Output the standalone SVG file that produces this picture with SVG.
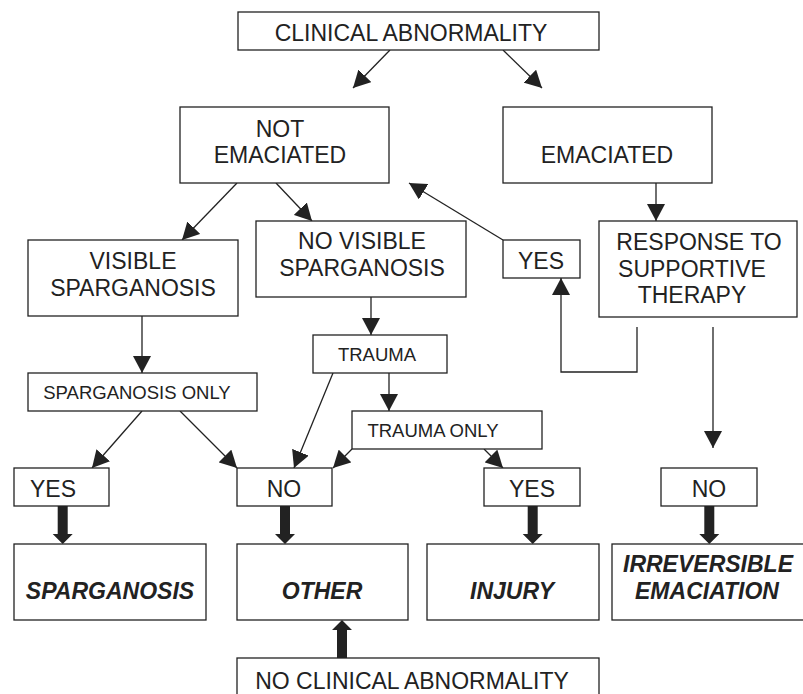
<svg xmlns="http://www.w3.org/2000/svg" width="803" height="694" viewBox="0 0 803 694">
<defs>
<style>
.box{fill:#fff;stroke:#222;stroke-width:1.3}
.t{font-family:"Liberation Sans",Arial,sans-serif;font-size:23px;fill:#222;text-anchor:middle}
.s{font-size:18.5px}
.bi{font-weight:bold;font-style:italic}
.c{fill:none;stroke:#222;stroke-width:1.3}
.thick{fill:#222;stroke:none}
</style>
<marker id="ah" markerUnits="userSpaceOnUse" viewBox="0 0 17 18" refX="17" refY="9" markerWidth="17" markerHeight="18" orient="auto">
<path d="M0,0 L17,9 L0,18 z" fill="#222"/>
</marker>
</defs>
<rect width="803" height="694" fill="#fff"/>
<g id="connectors">
<line class="c" x1="390" y1="50" x2="353" y2="88" marker-end="url(#ah)"/>
<line class="c" x1="503" y1="50" x2="542" y2="88" marker-end="url(#ah)"/>
<line class="c" x1="237" y1="183" x2="182" y2="240" marker-end="url(#ah)"/>
<line class="c" x1="276" y1="183" x2="312" y2="221" marker-end="url(#ah)"/>
<line class="c" x1="656" y1="183" x2="656" y2="221" marker-end="url(#ah)"/>
<line class="c" x1="503" y1="240" x2="409" y2="183" marker-end="url(#ah)"/>
<polyline class="c" points="637,327 637,372 561,372 561,278" marker-end="url(#ah)"/>
<line class="c" x1="713" y1="327" x2="713" y2="448" marker-end="url(#ah)"/>
<line class="c" x1="142" y1="316" x2="142" y2="373" marker-end="url(#ah)"/>
<line class="c" x1="371" y1="297" x2="371" y2="335" marker-end="url(#ah)"/>
<line class="c" x1="389" y1="373" x2="389" y2="411" marker-end="url(#ah)"/>
<line class="c" x1="142" y1="411" x2="92" y2="468" marker-end="url(#ah)"/>
<line class="c" x1="180" y1="411" x2="237" y2="468" marker-end="url(#ah)"/>
<line class="c" x1="333" y1="373" x2="294" y2="468" marker-end="url(#ah)"/>
<line class="c" x1="352" y1="449" x2="333" y2="468" marker-end="url(#ah)"/>
<line class="c" x1="484" y1="449" x2="503" y2="468" marker-end="url(#ah)"/>
<path class="thick" d="M57.7,506 h10 v28 h5 l-10,10 l-10,-10 h5 z"/>
<path class="thick" d="M280,506 h10 v28 h5 l-10,10 l-10,-10 h5 z"/>
<path class="thick" d="M527.7,506 h10 v28 h5 l-10,10 l-10,-10 h5 z"/>
<path class="thick" d="M704.3,506 h10 v28 h5 l-10,10 l-10,-10 h5 z"/>
<path class="thick" d="M337,658 h10 v-28 h5 l-10,-10 l-10,10 h5 z"/>
</g>
<g id="clinical-abnormality"><rect class="box" x="238" y="12" width="361" height="38"/><text class="t" x="411" y="41">CLINICAL ABNORMALITY</text></g>
<g id="not-emaciated"><rect class="box" x="180" y="107" width="209" height="76"/><text class="t" x="280" y="137">NOT</text><text class="t" x="280" y="163">EMACIATED</text></g>
<g id="emaciated"><rect class="box" x="503" y="107" width="209" height="76"/><text class="t" x="607" y="163">EMACIATED</text></g>
<g id="visible-sparganosis"><rect class="box" x="28" y="240" width="210" height="76"/><text class="t" x="133" y="269">VISIBLE</text><text class="t" x="133" y="296">SPARGANOSIS</text></g>
<g id="no-visible-sparganosis"><rect class="box" x="256" y="221" width="210" height="76"/><text class="t" x="362" y="249">NO VISIBLE</text><text class="t" x="362" y="276">SPARGANOSIS</text></g>
<g id="yes-response"><rect class="box" x="503" y="240" width="77" height="38"/><text class="t" x="541" y="269">YES</text></g>
<g id="response"><rect class="box" x="599" y="221" width="198" height="96"/><text class="t" x="699" y="250">RESPONSE TO</text><text class="t" x="692" y="277">SUPPORTIVE</text><text class="t" x="692" y="303">THERAPY</text></g>
<g id="sparganosis-only"><rect class="box" x="28" y="373" width="229" height="38"/><text class="t s" x="137" y="399">SPARGANOSIS ONLY</text></g>
<g id="trauma"><rect class="box" x="313" y="335" width="134" height="38"/><text class="t s" x="377" y="361">TRAUMA</text></g>
<g id="trauma-only"><rect class="box" x="352" y="411" width="190" height="38"/><text class="t s" x="433" y="437">TRAUMA ONLY</text></g>
<g id="yes-sparganosis"><rect class="box" x="14" y="468" width="95" height="38"/><text class="t" x="53" y="497">YES</text></g>
<g id="no-other"><rect class="box" x="237" y="468" width="95" height="38"/><text class="t" x="284" y="497">NO</text></g>
<g id="yes-injury"><rect class="box" x="484" y="468" width="96" height="38"/><text class="t" x="532" y="497">YES</text></g>
<g id="no-irreversible"><rect class="box" x="661" y="468" width="96" height="38"/><text class="t" x="709" y="497">NO</text></g>
<g id="sparganosis"><rect class="box" x="14" y="544" width="192" height="76"/><text class="t bi" x="110" y="599">SPARGANOSIS</text></g>
<g id="other"><rect class="box" x="237" y="544" width="171" height="76"/><text class="t bi" x="322" y="599">OTHER</text></g>
<g id="injury"><rect class="box" x="427" y="544" width="172" height="76"/><text class="t bi" x="512" y="599">INJURY</text></g>
<g id="irreversible-emaciation"><rect class="box" x="612" y="544" width="200" height="76"/><text class="t bi" x="708" y="572">IRREVERSIBLE</text><text class="t bi" x="707" y="599">EMACIATION</text></g>
<g id="no-clinical-abnormality"><rect class="box" x="237" y="658" width="362" height="50"/><text class="t" x="412" y="689">NO CLINICAL ABNORMALITY</text></g>
</svg>
